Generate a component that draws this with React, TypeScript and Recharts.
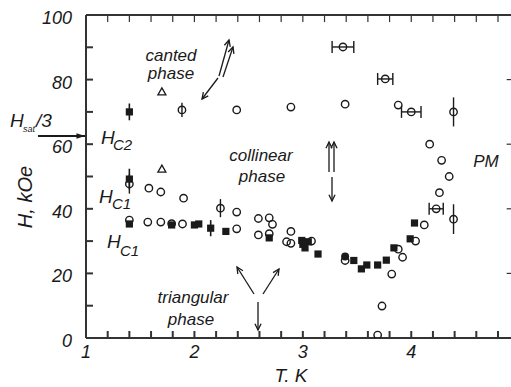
import React from 'react';
import { ScatterChart, Scatter, XAxis, YAxis, ErrorBar, ReferenceLine } from 'recharts';

// ---- data (T in K, H in kOe) ----
const openCircles = [
  { t: 2.39, h: 70.6 }, { t: 2.89, h: 71.5 }, { t: 3.39, h: 72.4 }, { t: 3.88, h: 72.1 },
  { t: 4.17, h: 60 }, { t: 4.28, h: 55 }, { t: 4.35, h: 50 }, { t: 4.26, h: 45 },
  { t: 4.12, h: 35 }, { t: 4.04, h: 30 }, { t: 3.88, h: 27.5 }, { t: 3.92, h: 25 },
  { t: 3.82, h: 19.8 }, { t: 3.73, h: 9.9 }, { t: 3.69, h: 0.9 },
  { t: 1.58, h: 46.4 }, { t: 1.69, h: 45.2 }, { t: 1.90, h: 43.3 }, { t: 2.39, h: 39 },
  { t: 2.59, h: 37 }, { t: 2.69, h: 37.2 }, { t: 2.72, h: 35.2 }, { t: 2.89, h: 33 },
  { t: 1.40, h: 36.5 }, { t: 1.57, h: 35.9 }, { t: 1.69, h: 35.9 }, { t: 1.89, h: 35.3 },
  { t: 2.39, h: 33.8 }, { t: 2.59, h: 31.9 }, { t: 2.69, h: 32.3 }, { t: 2.85, h: 29.8 },
  { t: 2.89, h: 29.3 }, { t: 3.08, h: 30 }, { t: 3.39, h: 24.0 }, { t: 1.79, h: 35.4 },
];
const openCirclesYErr = [
  { t: 1.40, h: 47.7, e: 3 }, { t: 1.885, h: 70.6, e: 2.2 }, { t: 2.24, h: 40.2, e: 2.8 },
  { t: 4.39, h: 70, e: 4.5 }, { t: 4.39, h: 36.8, e: 4.6 },
];
const openCirclesXErr = [
  { t: 3.37, h: 90.1, e: 0.1 }, { t: 3.76, h: 80.2, e: 0.07 },
  { t: 4.0, h: 70, e: 0.09 }, { t: 4.23, h: 40, e: 0.065 },
];
const squares = [
  { t: 1.40, h: 35.3 }, { t: 1.79, h: 35.0 }, { t: 2.0, h: 35.0 }, { t: 2.04, h: 35.3 },
  { t: 2.29, h: 33.0 }, { t: 2.69, h: 31.0 }, { t: 2.99, h: 30.2 }, { t: 3.0, h: 29.0 },
  { t: 3.02, h: 27.9 }, { t: 3.05, h: 29.8 }, { t: 3.14, h: 26.0 }, { t: 3.47, h: 24.0 },
  { t: 3.54, h: 21.4 }, { t: 3.59, h: 22.6 }, { t: 3.69, h: 22.6 }, { t: 3.77, h: 24.1 },
  { t: 3.84, h: 27.9 }, { t: 3.99, h: 30.7 }, { t: 4.03, h: 35.6 },
];
const squaresYErr = [
  { t: 1.40, h: 70, e: 2.6 }, { t: 1.40, h: 49.2, e: 3.2 }, { t: 2.15, h: 34, e: 2.5 },
];
const filledCircles = [{ t: 3.39, h: 25.2 }];
const triangles = [{ t: 1.70, h: 76.2 }, { t: 1.70, h: 52.3 }];

const xTicks = [1, 1.2, 1.4, 1.6, 1.8, 2, 2.2, 2.4, 2.6, 2.8, 3, 3.2, 3.4, 3.6, 3.8, 4, 4.2, 4.4, 4.6, 4.8];
const yTicks = [0, 10, 20, 30, 40, 50, 60, 70, 80, 90, 100];
const xLabels = [1, 2, 3, 4];
const yLabels = [0, 20, 40, 60, 80, 100];
const rightEdgeTicks = [20, 40, 60, 80];
const X_MAX = 4.92;

const FONT = '"Liberation Sans", Arial, Helvetica, sans-serif';
const INK = '#1a1a1a';
const AXIS = '#333';

const OpenCircle = (p: any) => (
  <circle cx={p.cx} cy={p.cy} r={3.7} fill="none" stroke={INK} strokeWidth={1.4} />
);
const FilledSquare = (p: any) => (
  <rect x={p.cx - 3.6} y={p.cy - 3.6} width={7.2} height={7.2} fill={INK} />
);
const FilledCircle = (p: any) => <circle cx={p.cx} cy={p.cy} r={4} fill={INK} />;
const Triangle = (p: any) => (
  <polygon
    points={`${p.cx},${p.cy - 4} ${p.cx - 4},${p.cy + 3} ${p.cx + 4},${p.cy + 3}`}
    fill="none"
    stroke={INK}
    strokeWidth={1.3}
  />
);

const XTick = (p: any) => {
  const v = p.payload.value;
  if (!xLabels.some((l) => Math.abs(l - v) < 1e-6)) return <g />;
  return (
    <text x={p.x} y={p.y} dy={13} textAnchor="middle" fontFamily={FONT} fontStyle="italic" fontSize={18} fill={INK}>
      {String(v)}
    </text>
  );
};
const YTick = (p: any) => {
  const v = p.payload.value;
  if (!yLabels.includes(v)) return <g />;
  return (
    <text x={p.x} y={p.y} dy={9} textAnchor="end" fontFamily={FONT} fontStyle="italic" fontSize={18} fill={INK}>
      {String(v)}
    </text>
  );
};

const txt = (x: number, y: number, s: string, size = 17, anchor: any = 'middle') => (
  <text x={x} y={y} textAnchor={anchor} fontFamily={FONT} fontStyle="italic" fontSize={size} fill={INK}>
    {s}
  </text>
);

const arrow = (x1: number, y1: number, x2: number, y2: number, key: string, filled = false) => {
  const ang = Math.atan2(y2 - y1, x2 - x1);
  const L = filled ? 9 : 7;
  const w = filled ? 0.32 : 0.45;
  const ax = x2 - L * Math.cos(ang - w);
  const ay = y2 - L * Math.sin(ang - w);
  const bx = x2 - L * Math.cos(ang + w);
  const by = y2 - L * Math.sin(ang + w);
  return (
    <g key={key}>
      <line x1={x1} y1={y1} x2={x2} y2={y2} stroke={INK} strokeWidth={filled ? 2 : 1.3} />
      {filled ? (
        <polygon points={`${x2},${y2} ${ax},${ay} ${bx},${by}`} fill={INK} />
      ) : (
        <polyline points={`${ax},${ay} ${x2},${y2} ${bx},${by}`} fill="none" stroke={INK} strokeWidth={1.3} />
      )}
    </g>
  );
};

export default function App() {
  return (
    <div style={{ position: 'absolute', left: 0, top: 0, width: 511, height: 387, overflow: 'hidden', background: '#fff' }}>
      <ScatterChart width={511} height={387} margin={{ top: 15, right: 0, bottom: 0, left: 0 }}>
        <XAxis
          type="number"
          dataKey="t"
          domain={[1, X_MAX]}
          ticks={xTicks}
          allowDataOverflow
          height={49}
          stroke={AXIS}
          strokeWidth={2}
          tickSize={-7}
          tickMargin={14}
          tick={<XTick />}
          interval={0}
        />
        <YAxis
          type="number"
          dataKey="h"
          domain={[0, 100]}
          ticks={yTicks}
          allowDataOverflow
          width={86}
          stroke={AXIS}
          strokeWidth={2}
          tickSize={-7}
          tickMargin={21}
          tick={<YTick />}
          interval={0}
        />
        <ReferenceLine y={100} stroke={AXIS} strokeWidth={2} ifOverflow="visible" />
        {xTicks.map((v) => (
          <ReferenceLine
            key={`tt${v}`}
            segment={[{ x: v, y: 100 }, { x: v, y: 97.8 }]}
            stroke={AXIS}
            strokeWidth={1.2}
            ifOverflow="visible"
          />
        ))}
        {rightEdgeTicks.map((v) => (
          <ReferenceLine
            key={`rt${v}`}
            segment={[{ x: X_MAX, y: v }, { x: X_MAX - 0.04, y: v }]}
            stroke={AXIS}
            strokeWidth={1.2}
            ifOverflow="visible"
          />
        ))}
        <Scatter data={openCircles} shape={OpenCircle} isAnimationActive={false} />
        <Scatter data={openCirclesYErr} shape={OpenCircle} isAnimationActive={false}>
          <ErrorBar dataKey="e" direction="y" width={0} stroke={INK} strokeWidth={1.4} />
        </Scatter>
        <Scatter data={openCirclesXErr} shape={OpenCircle} isAnimationActive={false}>
          <ErrorBar dataKey="e" direction="x" width={6} stroke={INK} strokeWidth={1.4} />
        </Scatter>
        <Scatter data={squares} shape={FilledSquare} isAnimationActive={false} />
        <Scatter data={squaresYErr} shape={FilledSquare} isAnimationActive={false}>
          <ErrorBar dataKey="e" direction="y" width={0} stroke={INK} strokeWidth={1.6} />
        </Scatter>
        <Scatter data={filledCircles} shape={FilledCircle} isAnimationActive={false} />
        <Scatter data={triangles} shape={Triangle} isAnimationActive={false} />
      </ScatterChart>
      <svg width={511} height={387} style={{ position: 'absolute', left: 0, top: 0, pointerEvents: 'none' }}>
        <text
          x={0}
          y={0}
          transform="translate(32,197) rotate(-90)"
          textAnchor="middle"
          fontFamily={FONT}
          fontStyle="italic"
          fontSize={20}
          fill={INK}
        >
          H, kOe
        </text>
        {txt(291, 382, 'T. K', 19)}
        {txt(10, 127, 'H', 19, 'start')}
        {txt(23, 132, 'sat', 9, 'start')}
        {txt(36, 127, '/3', 19, 'start')}
        {arrow(38, 136, 85, 136, 'hs', true)}
        {txt(101, 144, 'H', 19, 'start')}
        {txt(113, 150, 'C2', 15, 'start')}
        {txt(99, 203, 'H', 19, 'start')}
        {txt(112, 209, 'C1', 15, 'start')}
        {txt(107, 248, 'H', 19, 'start')}
        {txt(120, 256, 'C1', 15, 'start')}
        {txt(171, 61, 'canted')}
        {txt(171, 79, 'phase')}
        {txt(261, 161, 'collinear')}
        {txt(262, 182, 'phase')}
        {txt(486, 167, 'PM')}
        {txt(193, 303, 'triangular')}
        {txt(191, 325, 'phase')}
        {arrow(219, 76, 229, 40, 'c1')}
        {arrow(223, 77, 233, 47, 'c2')}
        {arrow(218, 78, 202, 99, 'c3')}
        {arrow(329, 172, 329, 142, 'l1')}
        {arrow(334, 172, 334, 142, 'l2')}
        {arrow(332, 177, 332, 201, 'l3')}
        {arrow(254, 294, 237, 267, 't1')}
        {arrow(263, 294, 279, 269, 't2')}
        {arrow(258, 302, 258, 330, 't3')}
      </svg>
    </div>
  );
}
